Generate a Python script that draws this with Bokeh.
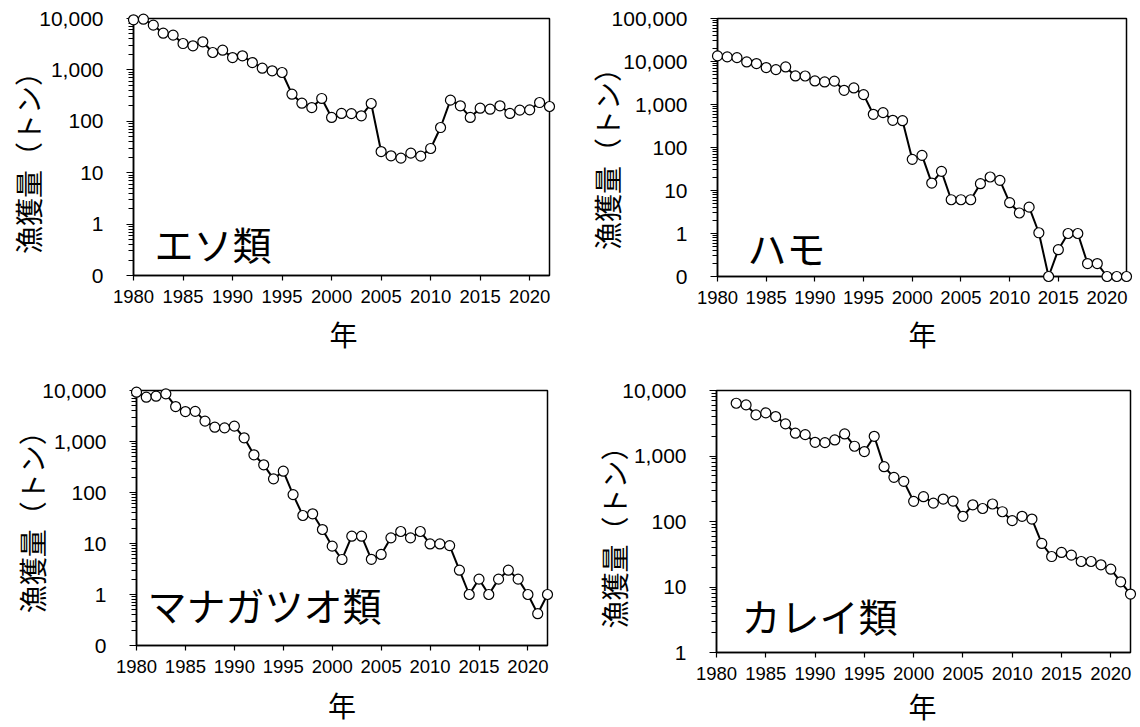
from math import pi
from bokeh.plotting import figure
from bokeh.layouts import column, row
from bokeh.models import FixedTicker, NumeralTickFormatter, Label
from bokeh.core.properties import value
from bokeh.embed import file_html
from bokeh.resources import INLINE

# ---- data (tons) ----
years = list(range(1980, 2023))
karei_years = list(range(1982, 2023))

eso = [9420, 9700, 7420, 5180, 4740, 3260, 2940, 3520, 2180, 2420,
       1740, 1880, 1390, 1080, 960, 890, 337, 225, 185, 278,
       119, 142, 141, 128, 222, 25.8, 21.3, 19.2, 24.0, 21.0,
       29.6, 75.7, 258, 200, 119, 180, 172, 200, 142, 165,
       167, 232, 194]

hamo = [13500, 12800, 12300, 9780, 8950, 7220, 6480, 7480, 4620, 4600,
        3530, 3350, 3500, 2140, 2430, 1700, 592, 647, 429, 420,
        53, 65.6, 14.9, 27.9, 6.1, 6.1, 6.1, 14.4, 20.6, 17.2,
        5.2, 3.0, 4.1, 1.04, 0.1, 0.42, 1.0, 1.0, 0.2, 0.2,
        0.1, 0.1, 0.1]

managatsuo = [9270, 7400, 7740, 8600, 4850, 3870, 3900, 2510, 1910, 1850,
              2000, 1180, 548, 349, 185, 262, 91, 35.4, 38.2, 18.8,
              8.87, 4.86, 13.9, 13.9, 4.9, 6.1, 12.9, 17.2, 12.9, 17.2,
              9.8, 9.8, 9.1, 3.0, 1.0, 2.0, 1.0, 2.0, 3.0, 2.0,
              1.0, 0.42, 1.0]

karei = [6390, 6030, 4240, 4550, 4000, 3090, 2230, 2120, 1620, 1600,
         1760, 2170, 1410, 1170, 2000, 687, 472, 410, 203, 239,
         191, 220, 205, 120, 180, 158, 185, 141, 103, 120,
         109, 46.2, 29.2, 33.7, 30.7, 24.5, 24.5, 21.8, 18.7, 12.0,
         7.8]

x_ticks = [1980, 1985, 1990, 1995, 2000, 2005, 2010, 2015, 2020]
y_title = "漁獲量（トン）"
x_title = "年"

NUM_FONT = "Liberation Sans"
JP_FONT = "Noto Sans CJK JP"
X0, X1 = 1980, 2022


def log_ticks(lo_exp, hi_exp):
    major = [10.0 ** e for e in range(lo_exp, hi_exp + 1)]
    minor = [m * 10.0 ** e for e in range(lo_exp, hi_exp) for m in range(2, 10)]
    return major, minor


def panel(name, xs, ys, lo_exp, hi_exp, mb, fw, fh, ylab, nm, xt):
    y0 = 10.0 ** lo_exp
    p = figure(frame_width=fw, frame_height=fh,
               min_border_left=mb[0], min_border_right=mb[1],
               min_border_top=mb[2], min_border_bottom=mb[3],
               x_range=(X0, X1), y_range=(y0, 10.0 ** hi_exp),
               y_axis_type="log", output_backend="svg", toolbar_location=None,
               background_fill_color="white", border_fill_color="white")
    p.xgrid.visible = False
    p.ygrid.visible = False
    p.outline_line_color = "black"
    p.outline_line_width = 1.5
    p.outline_line_alpha = 1.0

    major, minor = log_ticks(lo_exp, hi_exp)
    p.yaxis.ticker = FixedTicker(ticks=major, minor_ticks=minor)
    p.yaxis.formatter = NumeralTickFormatter(format="0,0")
    p.xaxis.ticker = FixedTicker(ticks=x_ticks, minor_ticks=[])

    for ax in (p.xaxis[0], p.yaxis[0]):
        ax.axis_line_color = "black"
        ax.axis_line_width = 1.5
        ax.major_tick_line_color = "black"
        ax.major_tick_line_width = 1.2
        ax.minor_tick_line_color = "black"
        ax.minor_tick_line_width = 1.0
        ax.major_tick_in = 0
        ax.minor_tick_in = 0
        ax.major_label_text_font = NUM_FONT
        ax.major_label_text_color = "black"
    p.xaxis.major_tick_out = 5
    p.xaxis.minor_tick_out = 0
    p.xaxis.major_label_text_font_size = "18.5px"
    p.xaxis.major_label_standoff = 9
    p.yaxis.major_tick_out = 7
    p.yaxis.minor_tick_out = 5
    p.yaxis.major_label_text_font_size = "21px"
    p.yaxis.major_label_standoff = 23

    r1 = p.line(xs, ys, line_color="black", line_width=2)
    r2 = p.scatter(xs, ys, size=10, marker="circle", fill_color="white",
                   line_color="black", line_width=1.2)
    r1.level = "overlay"
    r2.level = "overlay"

    # axis titles, anchored at the frame corner and offset in pixels
    p.text(x=[X0], y=[y0], text=[y_title], angle=pi / 2,
           x_offset=ylab[0], y_offset=ylab[1],
           text_align="center", text_baseline="middle",
           text_font=value(JP_FONT), text_font_size=value("28px"),
           text_color="black", level="overlay")
    p.text(x=[(X0 + X1) / 2], y=[y0], text=[x_title],
           x_offset=xt[0], y_offset=xt[1],
           text_align="center", text_baseline="middle",
           text_font=value(JP_FONT), text_font_size=value("28px"),
           text_color="black", level="overlay")

    p.add_layout(Label(x=nm[0], y=nm[1], x_units="screen", y_units="screen",
                       text=name, text_align="left", text_baseline="middle",
                       text_font=JP_FONT, text_font_size="39px", text_color="black"))
    return p


p1 = panel("エソ類", years, eso, -1, 4, (133, 21, 16, 90), 416, 257,
           (-105.5, -119.5), (21, 33), (2, 58))
p2 = panel("ハモ", years, hamo, -1, 5, (147, 14, 18, 87), 409, 258,
           (-110.3, -124.5), (30, 30), (0.5, 57))
p3 = panel("マナガツオ類", years, managatsuo, -1, 4, (136, 23, 27, 81), 411, 255,
           (-104.3, -130.3), (11, 42), (0, 59))
p4 = panel("カレイ類", karei_years, karei, 0, 4, (146, 10, 25, 76), 414, 262,
           (-103, -122), (25, 38), (-1, 53))

layout = column(row(p1, p2), row(p3, p4))
open("out.html", "w").write(file_html(layout, INLINE))
